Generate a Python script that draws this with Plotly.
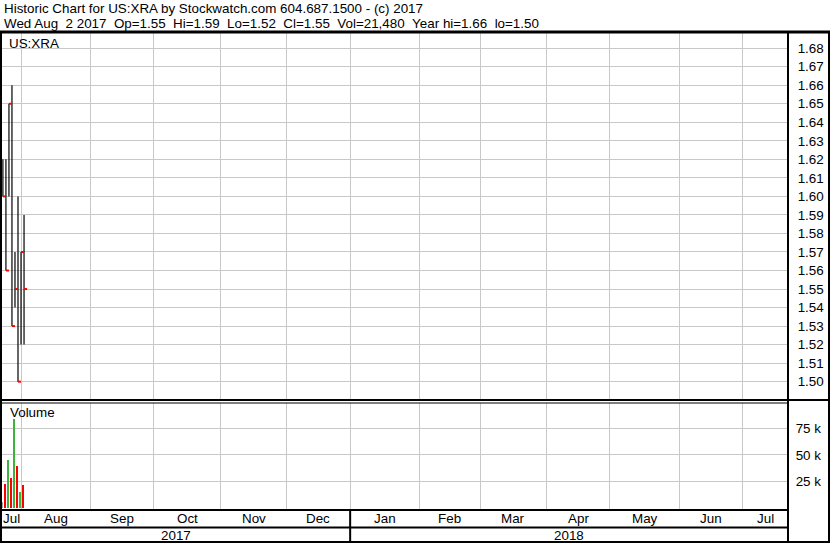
import numpy as np
import plotly.graph_objects as go

# ---------------- data ----------------
symbol = "US:XRA"
dates = ["2017-07-24", "2017-07-25", "2017-07-26", "2017-07-27",
         "2017-07-28", "2017-07-31", "2017-08-01", "2017-08-02"]
highs = [1.62, 1.62, 1.65, 1.66, 1.57, 1.60, 1.57, 1.59]
lows = [1.60, 1.56, 1.60, 1.53, 1.54, 1.50, 1.52, 1.52]
closes = [1.60, 1.56, 1.65, 1.53, 1.55, 1.50, 1.57, 1.55]
volumes = [5500, 22600, 45200, 28300, 84100, 39700, 15000, 21480]

axis_start = "2017-07-24"
month_starts = ["2017-08-01", "2017-09-01", "2017-10-01", "2017-11-01", "2017-12-01",
                "2018-01-01", "2018-02-01", "2018-03-01", "2018-04-01", "2018-05-01",
                "2018-06-01", "2018-07-01"]
month_names = ["Jul", "Aug", "Sep", "Oct", "Nov", "Dec", "Jan", "Feb", "Mar",
               "Apr", "May", "Jun", "Jul"]
year_labels = ["2017", "2018"]
price_ticks = [1.50, 1.51, 1.52, 1.53, 1.54, 1.55, 1.56, 1.57, 1.58, 1.59,
               1.60, 1.61, 1.62, 1.63, 1.64, 1.65, 1.66, 1.67, 1.68]
vol_ticks = [25000, 50000, 75000]
vol_tick_text = ["25 k", "50 k", "75 k"]

title1 = "Historic Chart for US:XRA by Stockwatch.com 604.687.1500 - (c) 2017"
title2 = ("Wed Aug\u00a0\u00a02 2017\u00a0\u00a0Op=1.55\u00a0\u00a0Hi=1.59\u00a0\u00a0Lo=1.52"
          "\u00a0\u00a0Cl=1.55\u00a0\u00a0Vol=21,480\u00a0\u00a0Year hi=1.66\u00a0\u00a0lo=1.50")

# ---------------- layout helpers ----------------
W, H = 830, 543
FONT = "Liberation Sans, Arial, sans-serif"
FS = 13.4


def px(x):
    return x / W


def py(y):
    return 1 - y / H


# weekday index along the x axis
xi = [int(np.busday_count(axis_start, d)) for d in dates]
mi = [int(np.busday_count(axis_start, str(np.busday_offset(m, 0, roll="forward"))))
      for m in month_starts]
x_lo, x_hi = -0.3, 260.0

# price bars as line segments
vx, vy, cx, cy = [], [], [], []
for i, h, l, c in zip(xi, highs, lows, closes):
    vx += [i, i, None]
    vy += [l, h, None]
    cx += [i, i + 1.0, None]
    cy += [c, c, None]

vcolors = []
for k, c in enumerate(closes):
    if k == 0:
        vcolors.append("#a0a0a0")
    elif c > closes[k - 1]:
        vcolors.append("#3cb43c")
    else:
        vcolors.append("#ff0000")

fig = go.Figure()
fig.add_trace(go.Scatter(x=vx, y=vy, mode="lines", line=dict(color="black", width=1.2),
                         xaxis="x", yaxis="y", hoverinfo="skip", showlegend=False))
fig.add_trace(go.Scatter(x=cx, y=cy, mode="lines", line=dict(color="#ff0000", width=2),
                         xaxis="x", yaxis="y", hoverinfo="skip", showlegend=False))
fig.add_trace(go.Bar(x=[i - 0.3 for i in xi], y=volumes, width=0.66, marker=dict(color=vcolors, line_width=0),
                     xaxis="x2", yaxis="y2", showlegend=False))

grid = "#c8c8c8"
xcommon = dict(range=[x_lo, x_hi], tickvals=mi, showgrid=True, gridcolor=grid, gridwidth=1,
               showticklabels=False, ticks="", zeroline=False, showline=False, fixedrange=True)
fig.update_layout(
    width=W, height=H, margin=dict(l=0, r=0, t=0, b=0),
    paper_bgcolor="white", plot_bgcolor="white", bargap=0,
    font=dict(family=FONT, size=FS, color="black"),
    xaxis=dict(domain=[px(2), px(788)], anchor="y", **xcommon),
    xaxis2=dict(domain=[px(2), px(788)], anchor="y2", **xcommon),
    yaxis=dict(domain=[py(400), py(33)], range=[1.4901, 1.6882], side="right", anchor="x",
               tickvals=price_ticks, ticktext=[f"{v:.2f}" for v in price_ticks],
               showgrid=True, gridcolor=grid, zeroline=False, ticks="outside", ticklen=6,
               tickcolor="rgba(0,0,0,0)", tickfont=dict(size=FS, family=FONT, color="black")),
    yaxis2=dict(domain=[py(509.5), py(403)], range=[-1900, 99335], side="right", anchor="x2",
                tickvals=vol_ticks, ticktext=vol_tick_text,
                showgrid=True, gridcolor=grid, zeroline=False, ticks="outside", ticklen=4,
                tickcolor="rgba(0,0,0,0)", tickfont=dict(size=FS, family=FONT, color="black")),
)

shapes = []


def hline(y, x0, x1, w=2):
    shapes.append(dict(type="line", xref="paper", yref="paper", x0=px(x0), x1=px(x1),
                       y0=py(y), y1=py(y), line=dict(color="black", width=w)))


def vline(x, y0, y1, w=2):
    shapes.append(dict(type="line", xref="paper", yref="paper", x0=px(x), x1=px(x),
                       y0=py(y0), y1=py(y1), line=dict(color="black", width=w)))


hline(32, 0, 830, 3)
hline(400, 0, 830, 2)
hline(403, 0, 788, 1)
hline(510, 0, 788, 2)
hline(527.5, 0, 788, 2)
hline(542, 0, 830, 2)
vline(1, 32, 543, 2)
vline(829, 32, 543, 2)
vline(788, 32, 543, 2)
# year divider at the first trading day of 2018
shapes.append(dict(type="line", xref="x2", yref="paper", x0=mi[5], x1=mi[5],
                   y0=py(542), y1=py(510), line=dict(color="black", width=2)))
fig.update_layout(shapes=shapes)

ann = []
ann.append(dict(text=title1, xref="paper", yref="paper", x=px(2), y=py(9), xanchor="left",
                yanchor="middle", showarrow=False, font=dict(size=FS)))
ann.append(dict(text=title2, xref="paper", yref="paper", x=px(2), y=py(23.5), xanchor="left",
                yanchor="middle", showarrow=False, font=dict(size=FS)))
ann.append(dict(text=symbol, xref="paper", yref="paper", x=px(7), y=py(43), xanchor="left",
                yanchor="middle", showarrow=False, font=dict(size=FS)))
ann.append(dict(text="Volume", xref="paper", yref="paper", x=px(8), y=py(413), xanchor="left",
                yanchor="middle", showarrow=False, font=dict(size=FS)))
bounds = [x_lo] + mi + [x_hi]
for k, name in enumerate(month_names):
    ann.append(dict(text=name, xref="x2", yref="paper", x=(bounds[k] + bounds[k + 1]) / 2,
                    y=py(518.5), xanchor="center", yanchor="middle", showarrow=False,
                    font=dict(size=FS)))
ybounds = [x_lo, mi[5], x_hi]
for k, name in enumerate(year_labels):
    ann.append(dict(text=name, xref="x2", yref="paper", x=(ybounds[k] + ybounds[k + 1]) / 2,
                    y=py(535), xanchor="center", yanchor="middle", showarrow=False,
                    font=dict(size=FS)))
fig.update_layout(annotations=ann)

fig.write_html("out.html", config={"displayModeBar": False, "staticPlot": True},
               post_script="document.body.style.margin='0';")
